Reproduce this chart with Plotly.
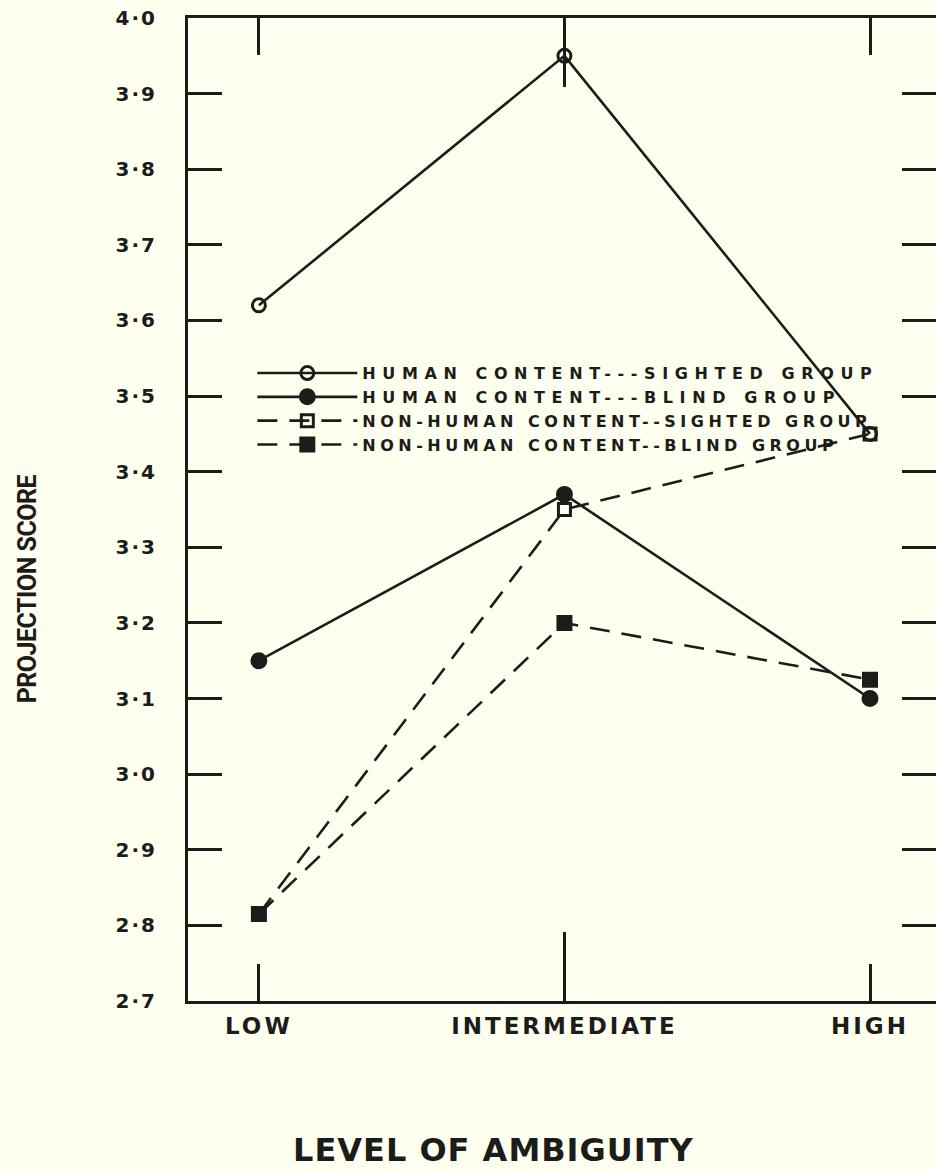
import plotly.graph_objects as go

# ---- data ----
levels = ["LOW", "INTERMEDIATE", "HIGH"]
human_sighted = [3.62, 3.95, 3.45]
human_blind = [3.15, 3.37, 3.10]
nonhuman_sighted = [2.815, 3.35, 3.45]
nonhuman_blind = [2.815, 3.20, 3.125]

series_names = [
    "HUMAN CONTENT---SIGHTED GROUP",
    "HUMAN CONTENT---BLIND GROUP",
    "NON-HUMAN CONTENT--SIGHTED GROUP",
    "NON-HUMAN CONTENT--BLIND GROUP",
]

y_tickvals = [2.7, 2.8, 2.9, 3.0, 3.1, 3.2, 3.3, 3.4, 3.5, 3.6, 3.7, 3.8, 3.9, 4.0]
y_ticktext = ["2·7", "2·8", "2·9", "3·0", "3·1", "3·2", "3·3", "3·4", "3·5",
              "3·6", "3·7", "3·8", "3·9", "4·0"]

INK = "#1c1c1a"
BG = "#FFFFF0"
FONT = "DejaVu Sans"

def spaced(t, px):
    return f'<span style="letter-spacing:{px}px">{t}</span>'

fig = go.Figure()

styles = [
    dict(data=human_sighted, sym="circle-open", size=13, dash="solid", ls=6.6),
    dict(data=human_blind, sym="circle", size=14, dash="solid", ls=6.6),
    dict(data=nonhuman_sighted, sym="square-open", size=12, dash="20px,12px", ls=4.5),
    dict(data=nonhuman_blind, sym="square", size=13, dash="20px,12px", ls=4.5),
]

for i, (name, st) in enumerate(zip(series_names, styles)):
    fig.add_trace(go.Scatter(
        x=levels, y=st["data"], mode="lines+markers",
        name=spaced(name, st["ls"]),
        legendgroup=f"g{i}",
        line=dict(color=INK, width=2.6, dash=st["dash"]),
        marker=dict(symbol=st["sym"], size=st["size"], color=INK,
                    line=dict(color=INK, width=3)),
    ))

xr = [-0.232, 2.216]

fig.update_layout(
    width=936, height=1171,
    margin=dict(l=188, r=0, t=18, b=170),
    paper_bgcolor=BG, plot_bgcolor=BG,
    font=dict(family=FONT, color=INK),
    showlegend=True,
    legend=dict(
        x=0.086, y=0.656, xanchor="left", yanchor="top",
        bgcolor="rgba(0,0,0,0)", borderwidth=0,
        font=dict(family=FONT, size=16, color=INK, weight="bold"),
        itemwidth=100, tracegroupgap=0,
    ),
    xaxis=dict(
        type="category", range=xr,
        tickvals=levels, ticktext=[spaced(t, 3) for t in levels],
        showline=True, linecolor=INK, linewidth=3, mirror="ticks",
        ticks="inside", ticklen=37, tickwidth=2.5, tickcolor=INK,
        showgrid=False, zeroline=False,
        tickfont=dict(family=FONT, size=23, color=INK, weight="bold"),
        ticklabelstandoff=2,
    ),
    xaxis2=dict(
        overlaying="x", anchor="y", range=xr, type="linear",
        tickvals=[1], ticktext=[""], ticks="inside", ticklen=69,
        tickwidth=2.5, tickcolor=INK, mirror="ticks",
        showline=False, showgrid=False, zeroline=False, side="bottom",
    ),
    yaxis=dict(
        range=[2.7, 4.0],
        tickvals=y_tickvals, ticktext=[spaced(t, 2) for t in y_ticktext],
        showline=True, linecolor=INK, linewidth=3,
        ticks="inside", ticklen=34, tickwidth=2.5, tickcolor=INK,
        showgrid=False, zeroline=False,
        tickfont=dict(family=FONT, size=20, color=INK, weight="bold"),
        ticklabelstandoff=24,
    ),
    yaxis2=dict(
        overlaying="y", side="right", anchor="x", range=[2.7, 4.0],
        tickvals=y_tickvals, showticklabels=False,
        ticks="inside", ticklen=34, tickwidth=2.5, tickcolor=INK,
        showline=False, showgrid=False, zeroline=False,
    ),
)

# invisible trace to activate secondary axes
fig.add_trace(go.Scatter(x=[None], y=[None], xaxis="x2", yaxis="y2",
                         showlegend=False, hoverinfo="skip"))

fig.add_annotation(
    text=spaced("LEVEL OF AMBIGUITY", 1), xref="paper", yref="paper",
    x=0.408, y=-0.1516, xanchor="center", yanchor="middle", showarrow=False,
    font=dict(family=FONT, size=32, color=INK, weight="bold"),
)
fig.add_annotation(
    text=spaced("PROJECTION SCORE", -0.5), xref="paper", yref="paper",
    x=-0.215, y=0.419, xanchor="center", yanchor="middle", showarrow=False,
    textangle=-90,
    font=dict(family="Roboto", size=25, color=INK, weight="bold"),
)

fig.write_html("out.html",
               config={"displayModeBar": False},
               post_script="document.body.style.margin='0px';"
                           "document.body.style.background='#FFFFF0';")
